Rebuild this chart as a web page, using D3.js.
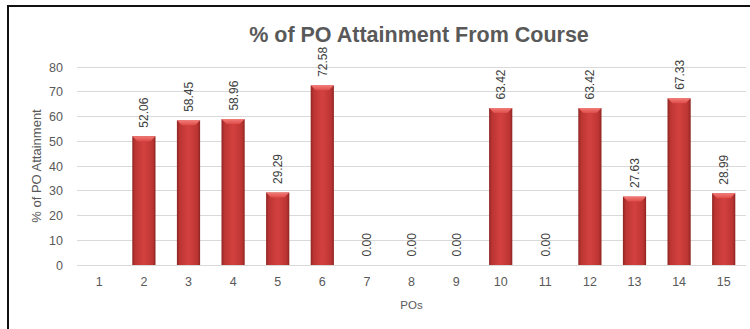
<!DOCTYPE html>
<html>
<head>
<meta charset="utf-8">
<script src="https://cdn.jsdelivr.net/npm/d3@7"></script>
<style>
  html, body { margin: 0; padding: 0; background: #fff; }
  svg { display: block; }
</style>
</head>
<body>
<svg id="chart" width="750" height="329"></svg>
<script>
// PO attainment data
const categories = ["1","2","3","4","5","6","7","8","9","10","11","12","13","14","15"];
const values = [null, 52.06, 58.45, 58.96, 29.29, 72.58, 0.00, 0.00, 0.00, 63.42, 0.00, 63.42, 27.63, 67.33, 28.99];
const yTicks = [0, 10, 20, 30, 40, 50, 60, 70, 80];

const titleText = "% of PO Attainment From Course";
const xTitle = "POs";
const yTitle = "% of PO Attainment";

const svg = d3.select("#chart");
const W = 750, H = 329;
const margin = { left: 77, right: 4, top: 67, bottom: 64 };
const fontFam = "'Liberation Sans', 'DejaVu Sans', sans-serif";

// frame edges
svg.append("line").attr("x1", 8).attr("x2", W).attr("y1", 6).attr("y2", 6)
  .attr("stroke", "#111").attr("stroke-width", 2);
svg.append("line").attr("x1", 8).attr("x2", 8).attr("y1", 5).attr("y2", H)
  .attr("stroke", "#111").attr("stroke-width", 2);

const x = d3.scaleBand().domain(categories)
  .range([margin.left, W - margin.right]).paddingInner(0.48).paddingOuter(0.24);
const y = d3.scaleLinear().domain([0, 80]).range([H - margin.bottom, margin.top]);

// gradients for the bevelled bars
const defs = svg.append("defs");
const side = defs.append("linearGradient").attr("id", "barBody").attr("x1", "0").attr("x2", "1").attr("y1", "0").attr("y2", "0");
[[0, "#8e2422"], [0.12, "#bb3533"], [0.5, "#d3413f"], [0.88, "#bb3533"], [1, "#8e2422"]]
  .forEach(([o, c]) => side.append("stop").attr("offset", o).attr("stop-color", c));
const cap = defs.append("linearGradient").attr("id", "barCap").attr("x1", "0").attr("x2", "0").attr("y1", "0").attr("y2", "1");
[[0, "#f27c78"], [1, "#de4b48"]]
  .forEach(([o, c]) => cap.append("stop").attr("offset", o).attr("stop-color", c));

// grid lines
svg.append("g").selectAll("line").data(yTicks).join("line")
  .attr("x1", margin.left).attr("x2", W - margin.right)
  .attr("y1", d => y(d)).attr("y2", d => y(d))
  .attr("stroke", "#d9d9d9").attr("stroke-width", 1).attr("shape-rendering", "crispEdges");

// y axis labels
const yAxis = svg.append("g").attr("transform", `translate(${margin.left},0)`)
  .call(d3.axisLeft(y).tickValues(yTicks).tickSize(0).tickPadding(14));
yAxis.select(".domain").remove();
yAxis.selectAll("text").attr("font-family", fontFam).attr("font-size", 12.5).attr("fill", "#595959");

// x axis labels
const xAxis = svg.append("g").attr("transform", `translate(0,${y(0)})`)
  .call(d3.axisBottom(x).tickSize(0).tickPadding(12));
xAxis.select(".domain").remove();
xAxis.selectAll("text").attr("font-family", fontFam).attr("font-size", 12.5).attr("fill", "#595959");

// bars
const data = categories.map((c, i) => ({ c, v: values[i] })).filter(d => d.v !== null);
const bw = x.bandwidth();
const bars = svg.append("g").selectAll("g").data(data.filter(d => d.v > 0)).join("g");
bars.append("rect")
  .attr("x", d => x(d.c)).attr("width", bw)
  .attr("y", d => y(d.v)).attr("height", d => y(0) - y(d.v))
  .attr("fill", "url(#barBody)");
bars.append("path")
  .attr("d", d => {
    const x0 = x(d.c), x1 = x0 + bw, t = y(d.v), b = 5;
    return `M${x0},${t}L${x1},${t}L${x1 - b},${t + b}L${x0 + b},${t + b}Z`;
  })
  .attr("fill", "url(#barCap)");

// value labels
svg.append("g").selectAll("text").data(data).join("text")
  .attr("transform", d => `translate(${x(d.c) + bw / 2 + 4.5},${y(d.v) - 8.5}) rotate(-90)`)
  .attr("font-family", fontFam).attr("font-size", 12).attr("fill", "#404040")
  .attr("text-anchor", "start")
  .text(d => d.v.toFixed(2));

// titles
svg.append("text").attr("x", 419).attr("y", 42).attr("text-anchor", "middle")
  .attr("font-family", fontFam).attr("font-weight", "bold").attr("font-size", 21.5)
  .attr("fill", "#595959").text(titleText);
svg.append("text").attr("x", x("8") + bw / 2).attr("y", 309).attr("text-anchor", "middle")
  .attr("font-family", fontFam).attr("font-size", 11.5).attr("fill", "#595959").text(xTitle);
svg.append("text")
  .attr("transform", `translate(41,${(y(0) + y(80)) / 2}) rotate(-90)`)
  .attr("text-anchor", "middle")
  .attr("font-family", fontFam).attr("font-size", 13).attr("fill", "#595959").text(yTitle);
</script>
</body>
</html>
